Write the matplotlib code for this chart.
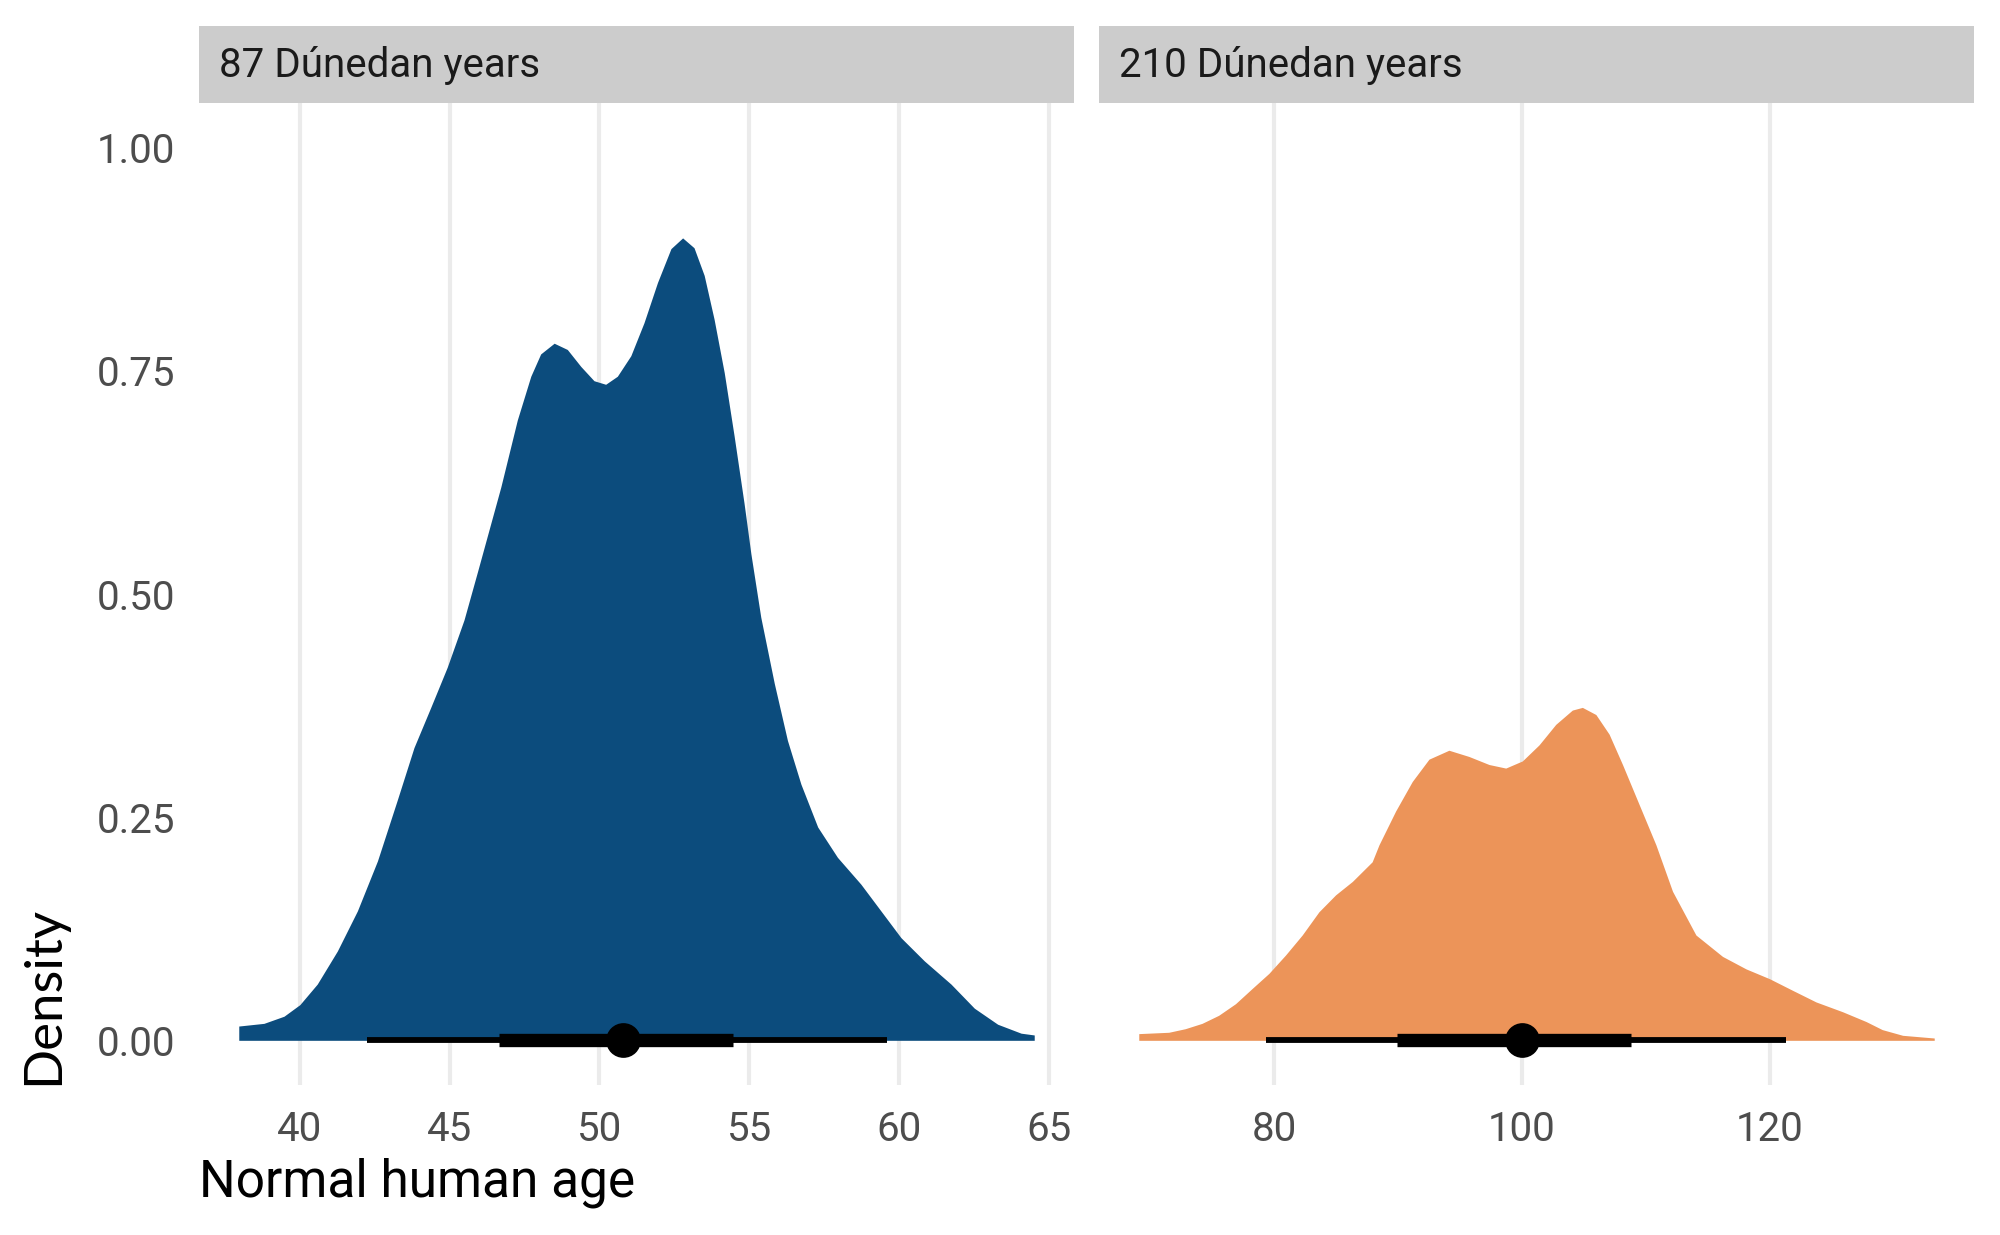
import matplotlib
matplotlib.use("Agg")
from matplotlib import pyplot as plt
import numpy as np

# panel labels and colours
panel_labels = ["87 Dúnedan years", "210 Dúnedan years"]
panel_colors = ["#0C4C7D", "#EC9459"]

# density curve (normal human age, density)
left_x = [37.96, 38.8, 39.47, 40.0, 40.58, 41.25, 41.92, 42.59, 43.25, 43.81,
          44.37, 44.92, 45.48, 45.93, 46.71, 47.26, 47.71, 48.04, 48.49, 48.93,
          49.38, 49.82, 50.21, 50.6, 51.05, 51.49, 51.94, 52.39, 52.78, 53.16,
          53.5, 53.83, 54.17, 54.5, 54.83, 55.06, 55.39, 55.84, 56.28, 56.73,
          57.29, 57.95, 58.73, 59.4, 60.07, 60.85, 61.74, 62.52, 63.3, 64.08,
          64.52]
left_y = [0.016, 0.019, 0.027, 0.040, 0.063, 0.10, 0.145, 0.201, 0.269, 0.328,
          0.373, 0.418, 0.471, 0.525, 0.62, 0.695, 0.744, 0.769, 0.781, 0.774,
          0.755, 0.739, 0.735, 0.744, 0.767, 0.804, 0.849, 0.887, 0.899, 0.888,
          0.857, 0.808, 0.748, 0.677, 0.602, 0.545, 0.474, 0.40, 0.336, 0.287,
          0.239, 0.205, 0.175, 0.145, 0.115, 0.089, 0.063, 0.036, 0.018, 0.008,
          0.006]

# density curve
right_x = [69.05, 71.47, 72.8, 74.16, 75.5, 76.86, 78.2, 79.56, 80.9, 82.25,
           83.6, 84.95, 86.3, 87.9, 88.45, 89.8, 91.14, 92.49, 94.1, 95.72,
           97.34, 98.69, 100.03, 101.38, 102.73, 104.07, 104.88, 105.97, 107.04,
           108.12, 109.47, 110.82, 112.16, 114.05, 116.2, 118.1, 120.0, 121.86,
           123.75, 125.9, 127.8, 129.1, 130.75, 133.3]
right_y = [0.0075, 0.009, 0.013, 0.019, 0.028, 0.041, 0.058, 0.075, 0.0955,
           0.118, 0.144, 0.163, 0.178, 0.2, 0.219, 0.257, 0.29, 0.315, 0.325,
           0.318, 0.309, 0.305, 0.313, 0.331, 0.354, 0.37, 0.373, 0.365, 0.343,
           0.309, 0.264, 0.219, 0.167, 0.118, 0.094, 0.08, 0.069, 0.056, 0.043,
           0.032, 0.021, 0.012, 0.0056, 0.0026]

# point + intervals (median, 66% and 95%)
medians = [50.8, 100.0]
inner_lo = [46.66, 89.93]
inner_hi = [54.46, 108.84]
outer_lo = [42.25, 79.29]
outer_hi = [59.61, 121.3]

x_ticks = [[40, 45, 50, 55, 60, 65], [80, 100, 120]]
y_ticks = [0.0, 0.25, 0.5, 0.75, 1.0]

plt.rcParams["font.family"] = ["Roboto", "DejaVu Sans"]

fig = plt.figure(figsize=(10, 6.175), dpi=200)

panel_left = [0.0995, 0.5495]
panel_w = 0.4375
panel_bottom = 0.1215
panel_h = 0.795
strip_h = 0.0628

curves = [(left_x, left_y), (right_x, right_y)]
axes = []
for i in range(2):
    ax = fig.add_axes([panel_left[i], panel_bottom, panel_w, panel_h])
    axes.append(ax)
    xs, ys = curves[i]
    # ggplot-style 5% expansion
    span = max(xs) - min(xs)
    ax.set_xlim(min(xs) - 0.05 * span, max(xs) + 0.05 * span)
    ax.set_ylim(-0.05, 1.05)

    ax.fill_between(xs, 0, ys, color=panel_colors[i], linewidth=0, zorder=2)
    ax.plot([outer_lo[i], outer_hi[i]], [0, 0], color="black", lw=2.1,
            solid_capstyle="butt", zorder=3)
    ax.plot([inner_lo[i], inner_hi[i]], [0, 0], color="black", lw=4.8,
            solid_capstyle="butt", zorder=4)
    ax.plot([medians[i]], [0], "o", color="black", markersize=11.5, zorder=5)

    ax.set_xticks(x_ticks[i])
    ax.set_xticklabels([str(t) for t in x_ticks[i]])
    ax.set_yticks(y_ticks)
    if i == 0:
        ax.set_yticklabels(["{:.2f}".format(t) for t in y_ticks])
    else:
        ax.set_yticklabels([])
    ax.grid(axis="x", color="#EBEBEB", linewidth=1.5, zorder=0)
    ax.grid(axis="y", visible=False)
    ax.set_axisbelow(True)
    ax.tick_params(length=0, labelsize=14.5, labelcolor="#4D4D4D", pad=9)
    for s in ax.spines.values():
        s.set_visible(False)

    # facet strip
    strip = fig.add_axes([panel_left[i], panel_bottom + panel_h, panel_w, strip_h])
    strip.set_facecolor("#CCCCCC")
    strip.set_xticks([])
    strip.set_yticks([])
    for s in strip.spines.values():
        s.set_visible(False)
    strip.text(0.023, 0.48, panel_labels[i], transform=strip.transAxes,
               ha="left", va="center", fontsize=14.5, color="#1A1A1A")

axes[0].tick_params(axis="y", pad=8.5)

fig.text(panel_left[0], 0.042, "Normal human age", ha="left", va="center",
         fontsize=18.5, color="black")
fig.text(0.022, panel_bottom, "Density", rotation=90, ha="center", va="bottom",
         fontsize=19, color="black", family=["Lato", "DejaVu Sans"])

fig.savefig("out.png", dpi=200)
